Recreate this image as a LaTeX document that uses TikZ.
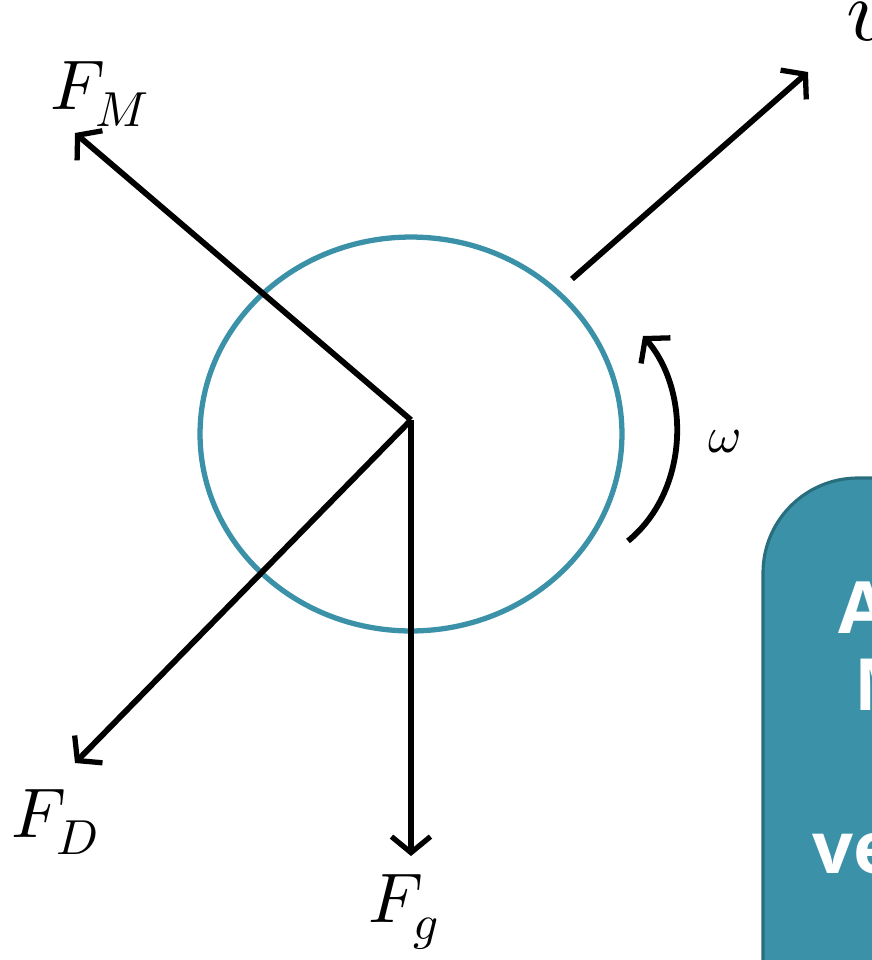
\documentclass[tikz,border=0pt]{standalone}
\usepackage{fontspec}
\usepackage{unicode-math}
\setmathfont{Latin Modern Math}
\newfontfamily\panelfont{Open Sans}
\usetikzlibrary{arrows.meta,positioning}
\definecolor{BallTeal}{RGB}{58,145,168}
\definecolor{DeepTeal}{RGB}{40,110,126}
\tikzset{
  force/.style={-{Straight Barb[length=0.32cm,width=0.78cm,line width=3pt]},
    line width=3.3pt,black},
  forcelabel/.style={inner sep=0pt,font=\fontsize{40}{48}\selectfont},
  spinlabel/.style={inner sep=0pt,font=\fontsize{29}{34}\selectfont},
  paneltext/.style={inner sep=0pt,anchor=base west,text=white,
    font=\panelfont\bfseries\fontsize{41}{48}\selectfont}
}

\begin{document}
\begin{tikzpicture}[
  x=0.02cm,
  y=-0.02cm
]
\useasboundingbox (0,0) rectangle (872,960);
\clip (0,0) rectangle (872,960);

% Panel on the right
\draw[fill=BallTeal,draw=DeepTeal,line width=1.8pt,rounded corners=1.9cm]
  (763,478) rectangle (1150,1200);
\node[paneltext] (pa) at (838,633) {A};
\node[paneltext] (pm) at (854,710) {M};
\node[paneltext] (pv) at (812,873) {ve};

% Ball
\coordinate (ball) at (411,434);
\draw[BallTeal,line width=3pt] (ball) ellipse [x radius=4.22cm,y radius=3.94cm];

% Forces
\coordinate (o) at (411,420);
\coordinate (fmtip) at (75,133);
\coordinate (fdtip) at (75,763);
\coordinate (fgtip) at (411,856);
\draw[force] (o) -- (fmtip);
\draw[force] (o) -- (fdtip);
\draw[force] (o) -- (fgtip);

% Velocity
\coordinate (vstart) at (572,279);
\coordinate (vtip) at (808,72);
\draw[force] (vstart) -- (vtip);

% Spin
\coordinate (wstart) at (628,541);
\coordinate (wtip) at (643,336);
\draw[force] (wstart) .. controls (690,490) and (690,390) .. (wtip);

% Labels
\node[forcelabel] (lfm) at (100,94) {$F_M$};
\node[forcelabel] (lfd) at (55,822) {$F_D$};
\node[forcelabel] (lfg) at (404,912) {$F_g$};
\node[forcelabel,font=\fontsize{50}{60}\selectfont] (lv) at (868,22) {$v$};
\node[spinlabel] (lw) at (725,442) {$\omega$};

\end{tikzpicture}
\end{document}
